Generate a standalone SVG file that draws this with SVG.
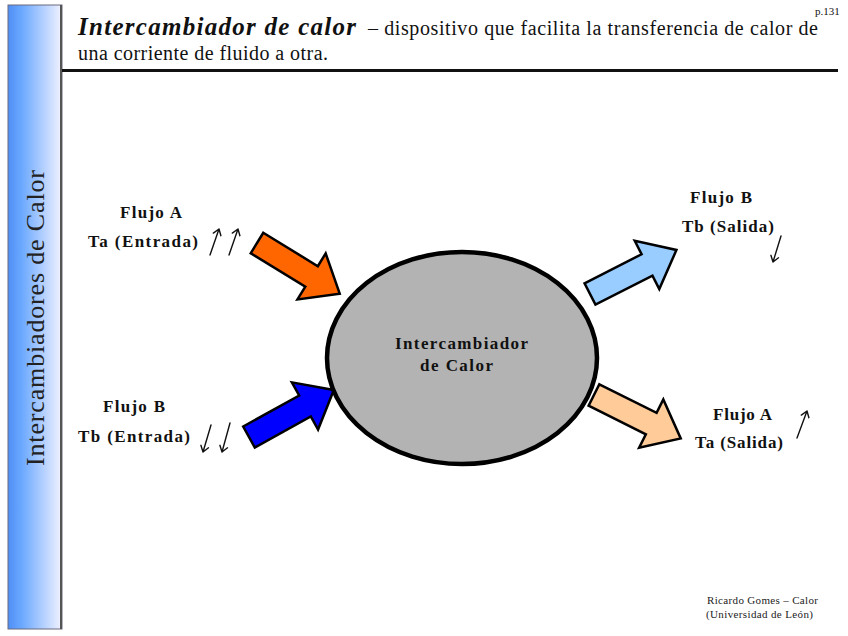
<svg xmlns="http://www.w3.org/2000/svg" width="848" height="636" viewBox="0 0 848 636">
<defs>
<linearGradient id="bar" x1="0" y1="0" x2="1" y2="0">
<stop offset="0" stop-color="#4f8ff5"/>
<stop offset="0.25" stop-color="#6aa8ff"/>
<stop offset="1" stop-color="#f2f2ff"/>
</linearGradient>
<path id="blk" d="M0,-12 L64,-12 L64,-27 L97,0 L64,27 L64,12 L0,12 Z"/>
</defs>
<style>
.serif{font-family:"Liberation Serif","Times New Roman",serif}
.lbl{font-family:"Liberation Serif","Times New Roman",serif;font-weight:bold;font-size:17px;fill:#111}
.arr{stroke:#000;stroke-width:2.5;stroke-linejoin:miter}
.hand{fill:none;stroke:#111;stroke-width:1.4;stroke-linecap:round;stroke-linejoin:round}
</style>
<rect width="848" height="636" fill="#fff"/>
<!-- side bar -->
<g id="sidebar">
<rect x="8" y="5" width="54" height="624" fill="url(#bar)" stroke="#6a6a80" stroke-width="1"/>
<line x1="61" y1="5" x2="61" y2="629" stroke="#555" stroke-width="2"/>
<text class="serif" transform="translate(44,318) rotate(-90)" text-anchor="middle" font-size="26" fill="#222" textLength="296">Intercambiadores de Calor</text>
</g>
<!-- header -->
<g id="header">
<text class="serif" x="78" y="35" font-size="25" font-weight="bold" font-style="italic" fill="#111" textLength="278">Intercambiador de calor</text>
<text class="serif" x="368" y="35" font-size="20" fill="#111" textLength="450">– dispositivo que facilita la transferencia de calor de</text>
<text class="serif" x="78" y="60" font-size="20" fill="#111" textLength="250">una corriente de fluido a otra.</text>
<text class="serif" x="815" y="15" font-size="11" fill="#111">p.131</text>
<line x1="62" y1="70.5" x2="838" y2="70.5" stroke="#111" stroke-width="3"/>
</g>
<!-- connectors -->
<g id="connectors">
<use href="#blk" transform="translate(257,243) rotate(31.5)" fill="#ff6600" class="arr"/>
<use href="#blk" transform="translate(249,437) rotate(-29)" fill="#0000ff" class="arr"/>
<use href="#blk" transform="translate(590,294) rotate(-27)" fill="#99ccff" class="arr"/>
<use href="#blk" transform="translate(594,395) rotate(26.6)" fill="#ffcc99" class="arr"/>
</g>
<!-- central node -->
<g id="exchanger">
<ellipse cx="462" cy="358" rx="135" ry="106" fill="#b3b3b3" stroke="#000" stroke-width="4.5"/>
<text x="395" y="349" class="lbl" textLength="133">Intercambiador</text>
<text x="420" y="371" class="lbl" textLength="73">de Calor</text>
</g>
<g id="flujoA_in">
<text x="120" y="218" class="lbl" textLength="62">Flujo A</text>
<text x="88" y="247" class="lbl" textLength="110">Ta (Entrada)</text>
<path class="hand" d="M210,255 L219,229 M213.3,233.1 L219,229 L220.9,235.7"/>
<path class="hand" d="M229,255 L238,229 M232.3,233.1 L238,229 L239.9,235.7"/>
</g>
<g id="flujoB_out">
<text x="690" y="203" class="lbl" textLength="62">Flujo B</text>
<text x="682" y="232" class="lbl" textLength="92">Tb (Salida)</text>
<path class="hand" d="M781,236 L773,262 M778.5,257.8 L773,262 L770.9,255.3"/>
</g>
<g id="flujoB_in">
<text x="103" y="412" class="lbl" textLength="62">Flujo B</text>
<text x="78" y="442" class="lbl" textLength="112">Tb (Entrada)</text>
<path class="hand" d="M211,425 L203,452 M208.5,447.8 L203,452 L200.9,445.3"/>
<path class="hand" d="M230,423 L222,452 M227.5,447.8 L222,452 L219.9,445.3"/>
</g>
<g id="flujoA_out">
<text x="713" y="420" class="lbl" textLength="59">Flujo A</text>
<text x="695" y="448" class="lbl" textLength="88">Ta (Salida)</text>
<path class="hand" d="M797,438 L807,411 M801.3,415.1 L807,411 L808.9,417.7"/>
</g>
<g id="footer">
<text class="serif" x="707" y="604" font-size="11" fill="#222" textLength="111">Ricardo Gomes – Calor</text>
<text class="serif" x="706" y="618" font-size="11" fill="#222" textLength="107">(Universidad de León)</text>
</g>
</svg>
